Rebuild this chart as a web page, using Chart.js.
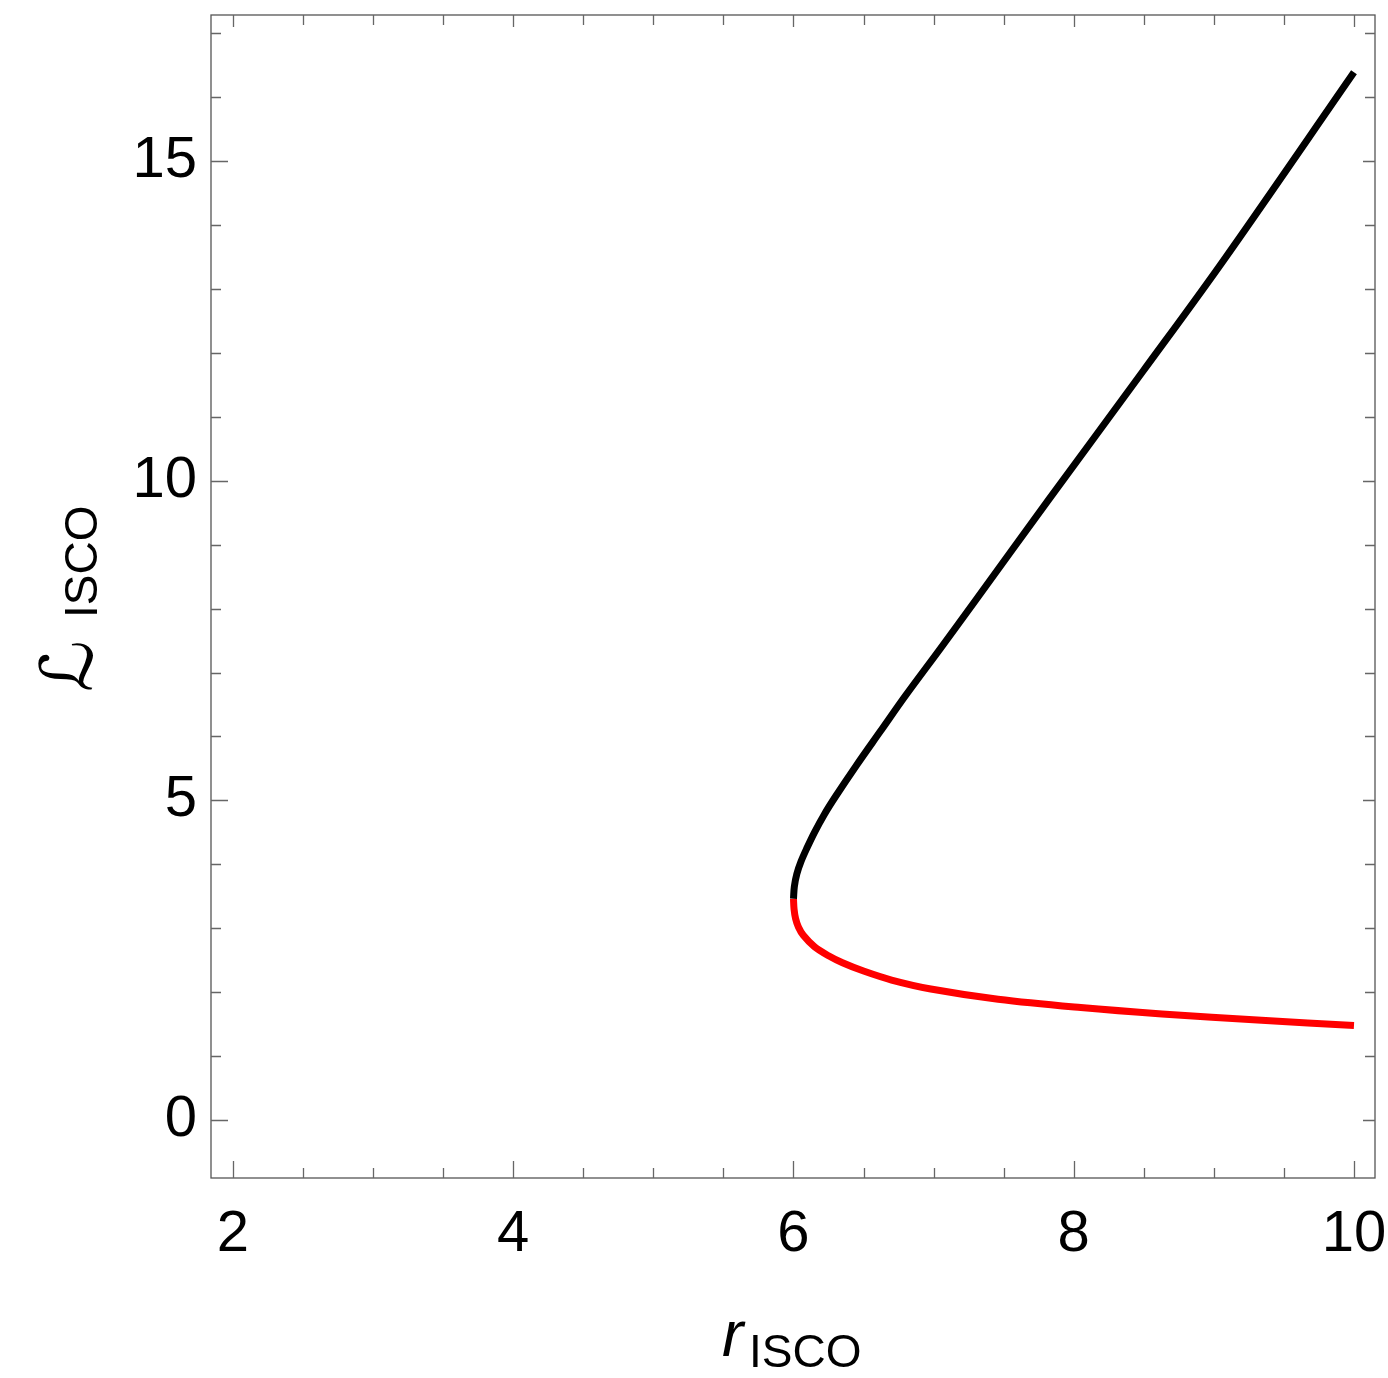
<!DOCTYPE html>
<html>
<head>
<meta charset="utf-8">
<script src="https://cdn.jsdelivr.net/npm/chart.js@4.4.1/dist/chart.umd.min.js"></script>
<style>
  html, body { margin: 0; padding: 0; background: #fff; }
  #wrap { width: 1388px; height: 1378px; }
</style>
</head>
<body>
<div id="wrap"><canvas id="chart" width="1388" height="1378"></canvas></div>
<script>
// upper branch (black)
const upperR = [6.0, 6.006, 6.024, 6.055, 6.095, 6.15, 6.22, 6.30, 6.45, 6.62, 6.80, 7.05, 7.30, 7.82, 8.49, 9.07, 10.0];
const upperL = [3.46, 3.65, 3.85, 4.05, 4.25, 4.50, 4.78, 5.06, 5.55, 6.08, 6.64, 7.38, 8.13, 9.70, 11.70, 13.45, 16.39];

// lower branch (red)
const lowerR = [6.0, 6.004, 6.015, 6.035, 6.07, 6.15, 6.25, 6.35, 6.50, 6.70, 6.98, 7.46, 8.05, 8.63, 9.34, 10.0];
const lowerL = [3.46, 3.30, 3.15, 3.02, 2.89, 2.71, 2.57, 2.46, 2.33, 2.19, 2.05, 1.89, 1.76, 1.66, 1.56, 1.48];

const xMajor = [2, 4, 6, 8, 10];
const yMajor = [0, 5, 10, 15];

const toPts = (xs, ys) => xs.map((x, i) => ({ x, y: ys[i] }));

const frameColor = "#555";
const tickColor = "#666";

// no extra room for overhanging tick labels, the frame is placed by layout padding
const noPad = (s) => {
  s.paddingTop = 0; s.paddingBottom = 0; s.paddingLeft = 0; s.paddingRight = 0;
};

const framePlugin = {
  id: "frame",
  afterDraw(chart) {
    const { ctx, chartArea: a, scales } = chart;
    const sx = scales.x, sy = scales.y;
    ctx.save();
    ctx.strokeStyle = frameColor;
    ctx.lineWidth = 1.3;
    ctx.strokeRect(a.left, a.top, a.right - a.left, a.bottom - a.top);

    ctx.strokeStyle = tickColor;
    ctx.lineWidth = 1.3;
    ctx.beginPath();
    for (let v = 2; v <= 10.001; v += 0.5) {
      const px = Math.round(sx.getPixelForValue(v)) + 0.5;
      const major = xMajor.includes(v);
      ctx.moveTo(px, a.bottom);
      ctx.lineTo(px, a.bottom - (major ? 17 : 10));
      ctx.moveTo(px, a.top);
      ctx.lineTo(px, a.top + (major ? 12 : 10));
    }
    for (let v = 0; v <= 17; v += 1) {
      const py = Math.round(sy.getPixelForValue(v)) + 0.5;
      const major = yMajor.includes(v);
      ctx.moveTo(a.left, py);
      ctx.lineTo(a.left + (major ? 17 : 10), py);
      ctx.moveTo(a.right, py);
      ctx.lineTo(a.right - (major ? 12 : 10), py);
    }
    ctx.stroke();

    // axis titles
    ctx.fillStyle = "#000";
    ctx.textBaseline = "alphabetic";
    ctx.textAlign = "left";
    ctx.font = 'italic 64px "Liberation Sans"';
    ctx.fillText("r", 722, 1356);
    ctx.font = '46px "Liberation Sans"';
    ctx.fillText("ISCO", 749, 1367);

    ctx.translate(92, 692);
    ctx.rotate(-Math.PI / 2);
    ctx.font = '72px "DejaVu Sans"';
    ctx.fillText("\u2112", 0, 0);
    ctx.font = '46px "Liberation Sans"';
    ctx.fillText("ISCO", 74, 5);
    ctx.restore();
  },
};

new Chart(document.getElementById("chart"), {
  type: "scatter",
  data: {
    datasets: [
      {
        data: toPts(upperR, upperL),
        showLine: true,
        borderColor: "#000000",
        borderWidth: 7,
        pointRadius: 0,
        tension: 0.35,
      },
      {
        data: toPts(lowerR, lowerL),
        showLine: true,
        borderColor: "#ff0000",
        borderWidth: 7,
        pointRadius: 0,
        tension: 0.35,
      },
    ],
  },
  options: {
    responsive: false,
    animation: false,
    layout: { padding: { top: 15, right: 13, left: 0, bottom: 0 } },
    plugins: { legend: { display: false }, tooltip: { enabled: false } },
    scales: {
      x: {
        type: "linear",
        min: 1.843,
        max: 10.15,
        border: { display: false },
        grid: { display: false, drawTicks: false },
        ticks: {
          stepSize: 2,
          includeBounds: false,
          padding: 22,
          color: "#000",
          font: { family: "Liberation Sans", size: 58 },
          maxRotation: 0,
        },
        afterFit: (s) => { s.height = 200; noPad(s); },
      },
      y: {
        type: "linear",
        min: -0.907,
        max: 17.285,
        border: { display: false },
        grid: { display: false, drawTicks: false },
        ticks: {
          stepSize: 5,
          includeBounds: false,
          padding: 14,
          color: "#000",
          font: { family: "Liberation Sans", size: 58 },
        },
        afterFit: (s) => { s.width = 211; noPad(s); },
      },
    },
  },
  plugins: [framePlugin],
});
</script>
</body>
</html>
